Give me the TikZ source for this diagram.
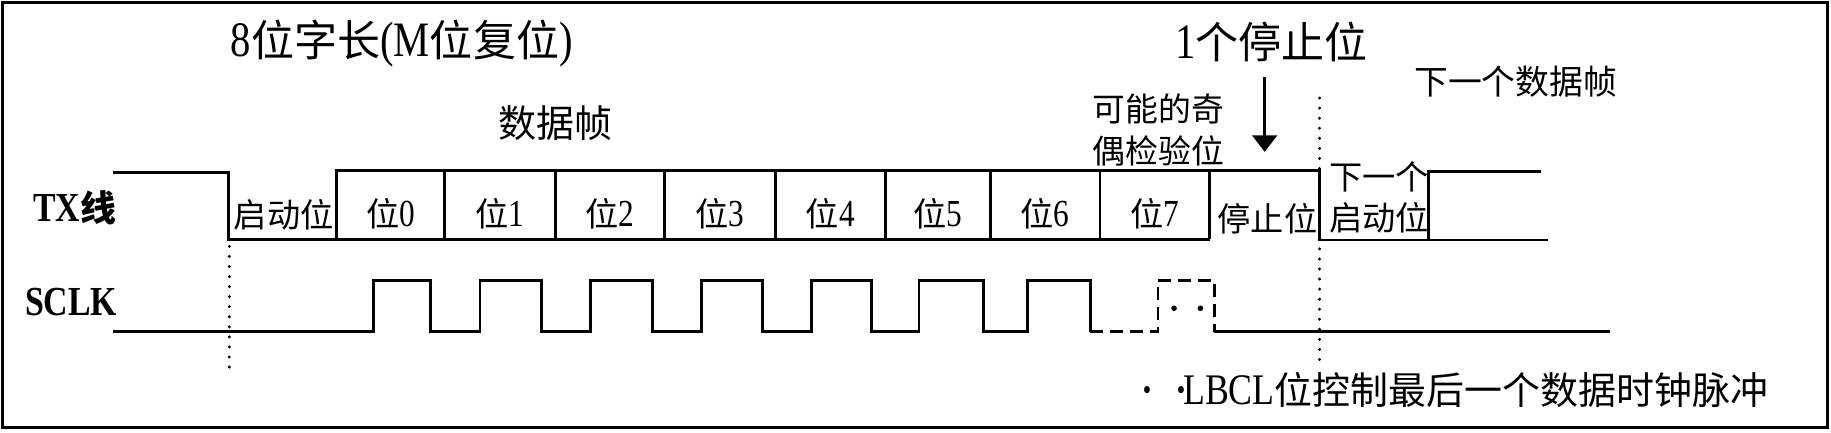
\documentclass[tikz,border=0pt]{standalone}
\usepackage{fontspec}
\usetikzlibrary{arrows.meta}
\newfontfamily\cjk{Noto Sans CJK SC}
\newfontfamily\lat[Scale=1.15,FakeStretch=0.82]{Liberation Serif}
\newcommand\zh[1]{{\cjk #1}}
\begin{document}
\begin{tikzpicture}[x=0.02cm,y=-0.02cm,
  wave/.style={line width=1.4pt, line join=miter},
  dotline/.style={line width=1.6pt, dash pattern=on 0pt off 4.9pt, line cap=round},
  dashline/.style={line width=1.4pt, dash pattern=on 6.3pt off 3.4pt},
  lbl/.style={inner sep=0pt, align=center},
  titlefont/.style={lbl, font=\lat\fontsize{21}{25}\selectfont},
  midfont/.style={lbl, font=\lat\fontsize{18.5}{22}\selectfont},
  subfont/.style={lbl, font=\lat\fontsize{16.5}{20}\selectfont},
  sigfont/.style={lbl, font=\lat\bfseries\fontsize{17.5}{22}\selectfont},
  smallfont/.style={lbl, font=\lat\fontsize{16.2}{20}\selectfont},
  twoline/.style={lbl, font=\lat\fontsize{16}{20.5}\selectfont},
  pointer/.style={line width=1.4pt, -{Triangle[width=12pt,length=8pt]}}
]
\useasboundingbox (0,0) rectangle (1568,370);
% frame
\draw[line width=1.6pt] (2,2) rectangle (1565,366);

% headings
\node[titlefont] (title) at (344,37) {8\zh{位字长}(M\zh{位复位})};
\node[titlefont] (stopone) at (1089,36) {1\zh{个停止位}};
\node[subfont] (nextframe) at (1298,70) {\zh{下一个数据帧}};
\node[midfont] (dataframe) at (476,105) {\zh{数据帧}};
\node[twoline] (parity) at (992,111) {\zh{可能的奇}\\\zh{偶检验位}};

% signal names
\node[sigfont] (txname) at (64,178) {TX\zh{线}};
\node[sigfont] (sclkname) at (61,258.5) {SCLK};

% TX line
\draw[wave] (97,148) -- (196,148) -- (196,205) -- (1036,205);
\draw[wave] (288,205) -- (288,146) -- (1130,146) -- (1130,205.5) -- (1326,205.5);
\foreach \x in {381,475.7,569,664,758.3,848,942,1036}
  \draw[wave] (\x,146) -- (\x,205);
\draw[wave] (1223.5,205.5) -- (1223.5,147) -- (1320,147);

% bit labels
\node[smallfont] (startbit) at (243,184) {\zh{启动位}};
\foreach \x/\n in {334.5/0,428/1,522/2,616.5/3,711/4,803/5,895/6,989/7}
  \node[smallfont] (bit\n) at (\x,183) {\zh{位}\n};
\node[smallfont] (stopbit) at (1085.5,187) {\zh{停止位}};
\node[smallfont] (nextstart) at (1181,169) {\zh{下一个}\\\zh{启动位}};

% SCLK
\draw[wave] (97,284) foreach \r/\f in {320/369,411/464,506/559,601/653,695/746,787/842,880/933.5}
  { -- (\r,284) -- (\r,240) -- (\f,240) -- (\f,284) };
\draw[dashline] (933.5,284) -- (991.7,284) -- (991.7,240) -- (1039.7,240) -- (1039.7,284);
\draw[wave] (1039.7,284) -- (1378.5,284);
\fill (1005.4,264) circle (2.4);
\fill (1028,264) circle (2.4);

% dotted markers
\draw[dotline] (196.4,211) -- (196.4,317);
\draw[dotline] (1130,84) -- (1130,314);

% stop-bit arrow
\coordinate (arrowtop) at (1083,66);
\coordinate (arrowtip) at (1083,130);
\draw[pointer] (arrowtop) -- (arrowtip);

% note
\node[midfont] (note) at (1246,334) {{\bfseries ·\kern0.5em·}\kern-0.1em LBCL\zh{位控制最后一个数据时钟脉冲}};
\end{tikzpicture}
\end{document}
